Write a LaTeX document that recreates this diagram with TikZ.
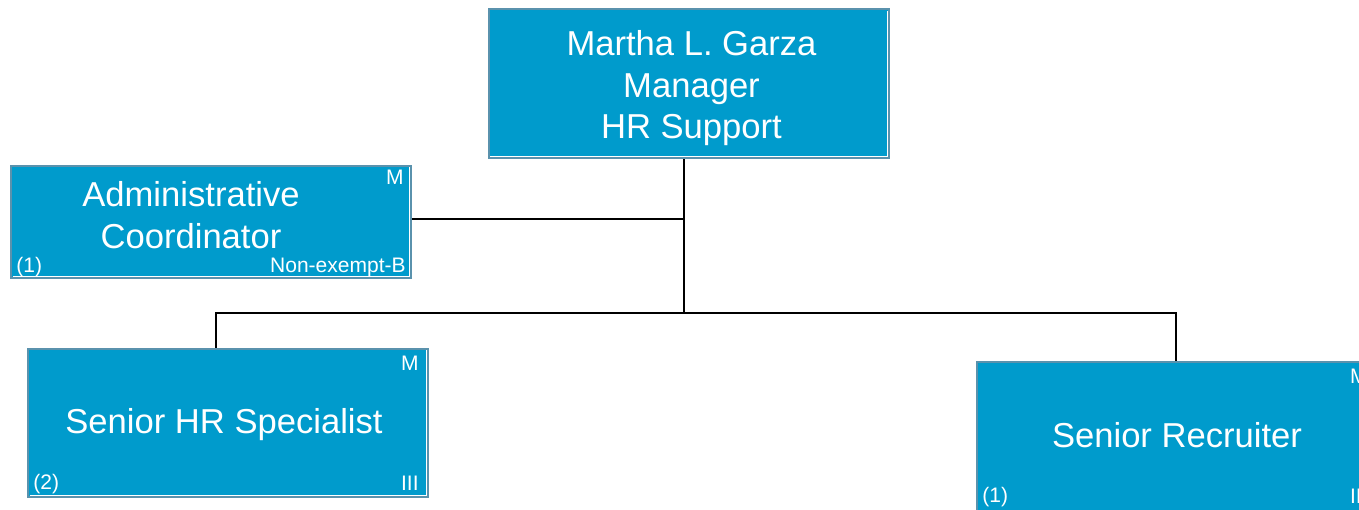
\documentclass[tikz,border=0pt]{standalone}
\usepackage{fontspec}
\setmainfont{Liberation Sans}
\definecolor{boxblue}{HTML}{009BCC}
\definecolor{boxrim}{HTML}{5A92AD}
\begin{document}
\begin{tikzpicture}[x=0.5pt,y=-0.5pt,
  orgbox/.style={draw=boxrim,line width=1pt,fill=boxblue,inner sep=0pt,minimum width=200pt,
    path picture={\draw[white,line width=0.5pt]
      ([shift={(0.75pt,0.75pt)}]path picture bounding box.south west) --
      ([shift={(-0.75pt,0.75pt)}]path picture bounding box.south east) --
      ([shift={(-0.75pt,-0.75pt)}]path picture bounding box.north east);}},
  boxtxt/.style={text=white,align=center,inner sep=0pt,font=\fontsize{17.3}{20.75}\selectfont},
  corner/.style={text=white,inner sep=0pt,font=\fontsize{10.5}{12}\selectfont},
  conn/.style={draw=black,line width=1pt}]
  \useasboundingbox (0,0) rectangle (1359,509);
  % boxes
  \node[orgbox,minimum height=74.5pt,
    label={[boxtxt,name=mgrtxt,xshift=1.5pt,yshift=-2.5pt]center:Martha L. Garza\\Manager\\HR Support}]
    (mgr) at (688.5,83.5) {};
  \node[orgbox,minimum height=56pt,
    label={[boxtxt,name=admtxt,xshift=-10pt,yshift=3.3pt]center:Administrative\\Coordinator}]
    (adm) at (211,221.5) {};
  \node[orgbox,minimum height=74pt,
    label={[boxtxt,name=hrtxt,xshift=-2pt,yshift=-0.8pt]center:Senior HR Specialist}]
    (hr) at (228,422.5) {};
  \node[orgbox,minimum height=75pt,
    label={[boxtxt,name=rectxt,yshift=0.5pt]center:Senior Recruiter}]
    (rec) at (1177,436.5) {};
  % corner texts
  \node[corner,anchor=north east] (admM) at ([shift={(-8,5)}]adm.north east) {M};
  \node[corner,anchor=base west] (admN) at ([shift={(6,-6)}]adm.south west) {(1)};
  \node[corner,anchor=base east] (admG) at ([shift={(-6,-6)}]adm.south east) {Non-exempt-B};
  \node[corner,anchor=north east] (hrM) at ([shift={(-10,8)}]hr.north east) {M};
  \node[corner,anchor=base west] (hrN) at ([shift={(6,-8)}]hr.south west) {(2)};
  \node[corner,anchor=base east] (hrG) at ([shift={(-10,-7)}]hr.south east) {III};
  \node[corner,anchor=north east] (recM) at ([shift={(-10,8)}]rec.north east) {M};
  \node[corner,anchor=base west] (recN) at ([shift={(6,-10)}]rec.south west) {(1)};
  \node[corner,anchor=base east] (recG) at ([shift={(-10,-9)}]rec.south east) {III};
  % connectors
  \coordinate (bus) at (684,313);
  \coordinate (hrtap) at (216,313);
  \coordinate (rectap) at (1176,313);
  \draw[conn] (mgr.south -| bus) -- (bus);
  \draw[conn] ([yshift=1.25pt]adm.east) -- ([yshift=1.25pt]adm.east -| bus);
  \draw[conn] (hrtap |- hr.north) -- (hrtap) -- (rectap) -- (rectap |- rec.north);
\end{tikzpicture}
\end{document}
